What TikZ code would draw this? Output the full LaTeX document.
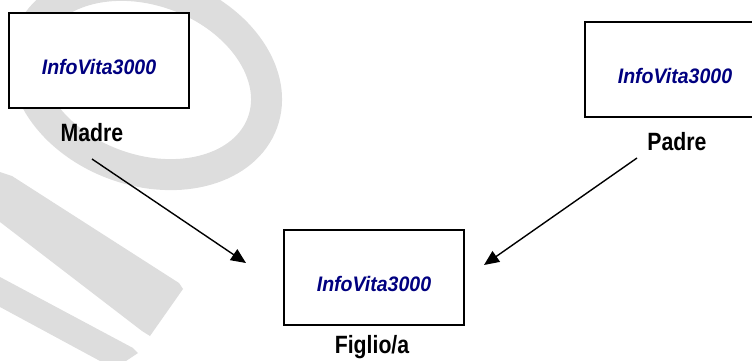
\documentclass[tikz,border=0pt]{standalone}
\usepackage{fontspec}
\setmainfont{Liberation Sans}
\newfontfamily\boxfont[FakeStretch=0.93]{Liberation Sans}
\newfontfamily\lblfont[FakeStretch=0.85]{Liberation Sans}
\usetikzlibrary{positioning, arrows.meta}
\definecolor{infoblue}{RGB}{0,0,128}
\definecolor{wmgray}{RGB}{221,221,221}

\begin{document}
\begin{tikzpicture}[
        x=1pt,
        y=-1pt,
        >={Triangle[length=15pt, width=13pt]},
        node distance=15pt,
        box/.style={draw, line width=1.3pt, fill=white, minimum width=180pt,
            minimum height=95pt, inner sep=0pt, text height=28pt, text depth=0pt,
            text=infoblue, font=\boxfont\fontsize{21}{21}\selectfont\bfseries\itshape},
        lbl/.style={inner sep=0pt, font=\lblfont\fontsize{25}{25}\selectfont\bfseries},
        wm/.style={fill=wmgray, draw=none},
        link/.style={->, line width=1.4pt}
    ]
    \useasboundingbox (0,0) rectangle (752,361);

    % watermark behind everything
    \draw[wmgray, line width=31pt, rotate around={-20:(146,80)}]
        (146,80) ellipse [x radius=124pt, y radius=90pt];
    \fill[wm] (0,172) -- (12,176) -- (179,283) -- (183,289) -- (150,336)
        -- (142,331) -- (0,222) -- cycle;
    \fill[wm] (0,277) -- (133,348) -- (138,353) -- (126,361) -- (100,361)
        -- (0,307) -- cycle;

    \node[box] (madre) at (99,60.5) {InfoVita3000};
    \node[box] (padre) at (675,69.5) {InfoVita3000};
    \node[box] (figlio) at (374,277.5) {InfoVita3000};

    \node[lbl, below=of madre, xshift=-7pt] (madrelbl) {Madre};
    \node[lbl, below=of padre, xshift=2pt] (padrelbl) {Padre};
    \node[lbl, below=10pt of figlio, xshift=-2pt] (figliolbl) {Figlio/a};

    \coordinate (madrefrom) at (92,159);
    \coordinate (madreto) at (246,263);
    \coordinate (padrefrom) at (637,158);
    \coordinate (padreto) at (484,265);

    \draw[link] (madrefrom) -- (madreto);
    \draw[link] (padrefrom) -- (padreto);
\end{tikzpicture}
\end{document}
